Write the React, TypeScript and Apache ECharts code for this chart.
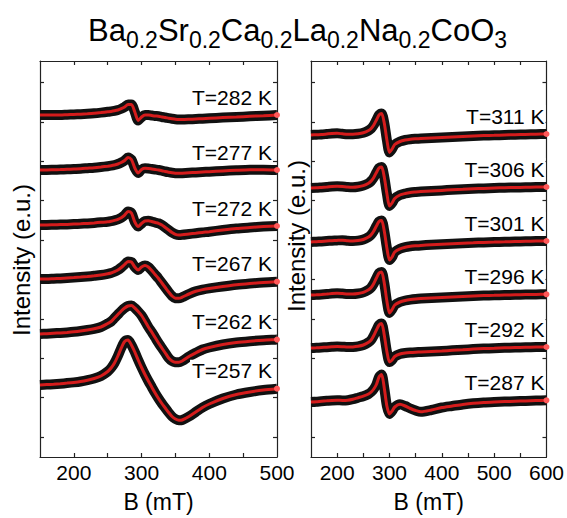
import React, { useEffect, useRef } from 'react';
import * as echarts from 'echarts';

const FONT = "'Liberation Sans', Arial, Helvetica, sans-serif";

// Magnetic field samples (mT)
const LEFT_B = [150, 160, 170, 180, 190, 200, 210, 220, 230, 240, 250,
  255, 260, 265, 270, 275, 280, 285, 290, 295, 300, 305, 310, 315, 320, 325, 330, 335, 340, 345, 350, 355, 360,
  370, 380, 390, 400, 420, 440, 460, 480, 500];
const RIGHT_B = [150, 160, 170, 180, 190, 200, 210, 220, 230, 240, 250, 260,
  265, 270, 275, 280, 285, 290, 295, 300, 305, 310,
  320, 330, 340, 350, 360,
  380, 400, 420, 440, 460, 480, 500, 520, 540, 560, 580, 600];

// Left panel: temperatures, vertical offsets, spectra (e.u.)
const LEFT_TEMPS = ['T=282 K', 'T=277 K', 'T=272 K', 'T=267 K', 'T=262 K', 'T=257 K'];
const LEFT_OFFSETS = [342, 287, 232, 178, 123, 72];
const S282 = [0, 0, 0, 0, 0.3, 0.5, 0.8, 1.2, 1.7, 2.4, 3.2,
  3.6, 4.2, 5, 6.3, 8, 10.5, 10.5, 3, -5.5, -2, 0, 0, -0.5, -1, -1.2, -2, -2.5, -3.2, -3.8, -4.3, -4.5, -4.5,
  -4.3, -4, -3.7, -3.3, -2.6, -2, -1.3, -0.7, 0];
const S277 = [0, 0, 0.2, 0.4, 0.7, 1, 1.3, 1.8, 2.3, 3, 3.8,
  4.3, 5, 6, 7.5, 9.5, 12.5, 10.5, 2, -3, 0.5, 1.7, 1.5, 1, 0.5, 0, -0.7, -1.5, -2.2, -2.8, -3.2, -3.3, -3.2,
  -2.8, -2.4, -2, -1.7, -0.9, -0.3, 0.2, 0.3, 0];
const S272 = [0, 0, 0.2, 0.4, 0.6, 0.9, 1.2, 1.6, 2.1, 2.7, 3.2,
  3.8, 4.6, 5.6, 7.2, 9.8, 13.5, 12, 3, -1.5, 1.5, 4, 4.2, 3.5, 2.5, 1.7, 0, -2.5, -5, -7.5, -9.3, -10, -9.8,
  -9, -8.2, -7.4, -6.7, -5, -3.5, -2.5, -1.6, -1];
const S267 = [0, 0, 0.3, 0.6, 1, 1.4, 1.9, 2.5, 3.2, 4, 5.2,
  6, 7.3, 9, 11.5, 14.5, 17.5, 17, 12, 9, 12, 13.5, 12, 8.5, 4.5, 0.5, -4, -8.5, -13, -17, -19.2, -19.3, -18.2,
  -15, -12.3, -10.6, -9.4, -7.5, -5.8, -4.5, -3.4, -2.7];
const S262 = [0, 0.3, 0.7, 1.1, 1.6, 2.2, 3, 4, 5.2, 7, 10.5,
  12.5, 16, 19.5, 23, 26, 28, 28.4, 26, 22.5, 18.5, 13, 7, 2, -3.5, -9, -14, -19, -24, -27, -28.2, -28.3, -27,
  -22.5, -18.8, -15.5, -13.5, -10.5, -8.5, -7.2, -6.2, -5.6];
const S257 = [0, 0.4, 0.8, 1.3, 1.9, 2.6, 3.5, 4.8, 6.5, 9, 13.5,
  17, 22, 29, 37, 43.5, 45, 40, 33, 25, 17.5, 10.5, 4, -2, -8, -13.5, -18.5, -23, -27.5, -31.5, -34, -35.3, -35,
  -31.5, -27, -22.5, -19, -13.5, -9.5, -7, -5, -3.7];
const LEFT_SIGNALS = [S282, S277, S272, S267, S262, S257];

// Right panel
const RIGHT_TEMPS = ['T=311 K', 'T=306 K', 'T=301 K', 'T=296 K', 'T=292 K', 'T=287 K'];
const RIGHT_OFFSETS = [322, 269, 215, 162, 109, 55];
const S311 = [0, 0.3, 0.5, 1, 1.5, 1.7, 1.2, 0.8, 0.8, 1.2, 2.2, 4.5,
  6.5, 10, 15, 20, 21.5, 12, -5, -17.5, -14, -9.5,
  -6.5, -5, -4.2, -3.8, -3.5,
  -3, -2.5, -2, -1.5, -1, -0.6, -0.3, 0, 0.3, 0.6, 0.8, 1];
const S306 = [0, 0.2, 0.6, 1, 1.5, 1.8, 1.5, 1, 0.8, 1.3, 2.4, 4.8,
  7, 10.5, 15.5, 20, 21, 11, -5.5, -18, -15, -10.5,
  -7, -5.5, -4.5, -4, -3.6,
  -3, -2.4, -1.8, -1.3, -0.8, -0.4, 0, 0.3, 0.5, 0.7, 0.9, 1];
const S301 = [0, 0.3, 0.6, 1, 1.3, 1.6, 1.8, 1.2, 1, 1.4, 2.5, 5,
  7.2, 11, 16, 20.5, 21.5, 11, -6, -18, -15, -10,
  -6.8, -5.2, -4.3, -3.8, -3.4,
  -2.8, -2.2, -1.7, -1.2, -0.8, -0.4, -0.1, 0.2, 0.5, 0.7, 0.9, 1];
const S296 = [0, 0.2, 0.5, 0.9, 1.4, 1.7, 1.4, 1, 1, 1.5, 2.6, 5.2,
  7.5, 11.5, 17, 22, 23, 12, -6, -18, -14.5, -10,
  -7, -5.5, -4.6, -4, -3.6,
  -3, -2.5, -2, -1.5, -1, -0.6, -0.3, 0, 0.2, 0.4, 0.6, 0.7];
const S292 = [0, 0.2, 0.5, 0.8, 1.2, 1.5, 1.3, 1, 1.1, 1.7, 3, 5.8,
  8, 12.5, 18, 23, 24.5, 13, -3.5, -14, -12, -8.5,
  -6, -5, -4.5, -4.2, -4,
  -3.5, -3, -2.3, -1.7, -1.1, -0.6, -0.2, 0.2, 0.5, 0.7, 0.9, 1];
const S287 = [0, 0.3, 0.8, 1.2, 1.6, 1.8, 1.6, 1.8, 2.8, 4.3, 5.8, 8,
  10, 13, 17.5, 25, 27.5, 14, -4, -12, -9, -5,
  -2.3, -4, -6.5, -8.5, -9.8,
  -8, -5.5, -4, -2.5, -1.3, -0.5, 0, 0.4, 0.8, 1.1, 1.4, 1.7];
const RIGHT_SIGNALS = [S311, S306, S301, S296, S292, S287];

// Axis ticks / labels
const LEFT_X_LABELS = [200, 300, 400, 500];
const LEFT_X_TICKS = [200, 250, 300, 350, 400, 450];
const RIGHT_X_LABELS = [200, 300, 400, 500, 600];
const RIGHT_X_TICKS = [200, 250, 300, 350, 400, 450, 500, 550];
const Y_TICKS = [20, 59.4, 98.8, 138.2, 177.6, 217, 256.4, 295.8, 335.2, 374.6];

const FRAME = { color: '#222', width: 1.2 };

function xAxes(grid: number, min: number, max: number, ticks: number[], labels: number[]) {
  return [
    {
      type: 'value', gridIndex: grid, position: 'bottom', min, max,
      axisLine: { show: true, onZero: false, lineStyle: FRAME },
      axisTick: { show: true, inside: true, length: 4, customValues: ticks, lineStyle: FRAME },
      axisLabel: { show: true, customValues: labels, fontSize: 21, color: '#000', margin: 5, fontFamily: FONT },
      splitLine: { show: false },
      name: 'B (mT)', nameLocation: 'middle', nameGap: 33,
      nameTextStyle: { fontSize: 23, color: '#000', fontFamily: FONT },
    },
    {
      type: 'value', gridIndex: grid, position: 'top', min, max,
      axisLine: { show: true, onZero: false, lineStyle: FRAME },
      axisTick: { show: true, inside: true, length: 4, customValues: ticks, lineStyle: FRAME },
      axisLabel: { show: false },
      splitLine: { show: false },
    },
  ];
}

function yAxes(grid: number) {
  return ['left', 'right'].map((pos) => ({
    type: 'value', gridIndex: grid, position: pos, min: 0, max: 396,
    axisLine: { show: true, onZero: false, lineStyle: FRAME },
    axisTick: { show: true, inside: true, length: 4, customValues: Y_TICKS, lineStyle: FRAME },
    axisLabel: { show: false },
    splitLine: { show: false },
  }));
}

function buildSeries(bs: number[], signals: number[][], offsets: number[], temps: string[], grid: number, labelDist: number) {
  const out: any[] = [];
  signals.forEach((sig, k) => {
    const pts = bs.map((b, i) => [b, offsets[k] + sig[i]]);
    const last = pts.length - 1;
    out.push({
      type: 'line', xAxisIndex: grid * 2, yAxisIndex: grid * 2,
      data: pts, showSymbol: false, symbol: 'none', smooth: 0.25, silent: true,
      lineStyle: { color: '#111', width: 10, cap: 'butt', join: 'round' },
      z: 2,
    });
    out.push({
      type: 'line', xAxisIndex: grid * 2, yAxisIndex: grid * 2,
      data: pts.map((p, i) => (i === last
        ? { value: p, symbol: 'circle', symbolSize: 6, itemStyle: { color: '#ff5a5a' } }
        : { value: p, symbol: 'none' })),
      showSymbol: true, smooth: 0.25, silent: true,
      lineStyle: { color: '#d41c1c', width: 3 },
      z: 3,
      markPoint: {
        symbol: 'rect', symbolSize: 0, silent: true,
        data: [{
          coord: [pts[last][0], pts[last][1] + 18],
          label: {
            show: true, position: 'left', distance: labelDist, formatter: temps[k],
            color: '#000', fontSize: 21, fontFamily: FONT,
            backgroundColor: '#fff', padding: [1, 1, 0, 2],
          },
        }],
      },
    });
  });
  return out;
}

export default function App() {
  const ref = useRef<HTMLDivElement>(null);
  useEffect(() => {
    document.body.style.margin = '0';
    if (!ref.current) return;
    const chart = echarts.init(ref.current, undefined, { renderer: 'svg' });
    chart.setOption({
      animation: false,
      backgroundColor: '#fff',
      textStyle: { fontFamily: FONT },
      title: {
        text: '{n|Ba}{s|0.2}{n|Sr}{s|0.2}{n|Ca}{s|0.2}{n|La}{s|0.2}{n|Na}{s|0.2}{n|CoO}{s|3}',
        left: 88, top: 9, padding: 0,
        textStyle: {
          fontWeight: 'normal',
          rich: {
            n: { fontSize: 31, fontWeight: 'normal', fontFamily: FONT, color: '#000', lineHeight: 42 },
            s: { fontSize: 23, fontWeight: 'normal', fontFamily: FONT, color: '#000', lineHeight: 20, verticalAlign: 'bottom' },
          },
        },
      },
      grid: [
        { left: 40, top: 61, width: 237, height: 396 },
        { left: 311, top: 61, width: 237, height: 396 },
      ],
      xAxis: [
        ...xAxes(0, 150, 500, LEFT_X_TICKS, LEFT_X_LABELS),
        ...xAxes(1, 150, 600, RIGHT_X_TICKS, RIGHT_X_LABELS),
      ],
      yAxis: [...yAxes(0), ...yAxes(1)],
      graphic: [
        {
          type: 'text', x: 21, y: 260, rotation: Math.PI / 2, silent: true,
          style: { text: 'Intensity (e.u.)', fontSize: 24, fontFamily: FONT, fill: '#000', align: 'center', verticalAlign: 'middle' },
        },
        {
          type: 'text', x: 296, y: 236, rotation: Math.PI / 2, silent: true,
          style: { text: 'Intensity (e.u.)', fontSize: 24, fontFamily: FONT, fill: '#000', align: 'center', verticalAlign: 'middle' },
        },
      ],
      series: [
        ...buildSeries(LEFT_B, LEFT_SIGNALS, LEFT_OFFSETS, LEFT_TEMPS, 0, 4),
        ...buildSeries(RIGHT_B, RIGHT_SIGNALS, RIGHT_OFFSETS, RIGHT_TEMPS, 1, 1),
      ],
    });
    return () => chart.dispose();
  }, []);
  return <div ref={ref} style={{ width: 567, height: 518 }} />;
}
